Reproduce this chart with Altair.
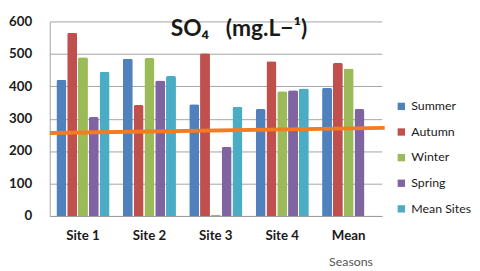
import altair as alt
import pandas as pd

sites = ["Site 1", "Site 2", "Site 3", "Site 4", "Mean"]
seasons = ["Summer", "Autumn", "Winter", "Spring", "Mean Sites"]
summer = [420, 485, 345, 330, 395]
autumn = [565, 342, 502, 477, 472]
winter = [490, 487, 3, 385, 455]
spring = [305, 418, 213, 388, 330]
mean_sites = [445, 432, 337, 393, None]
colors = ["#4F81BD", "#C0504D", "#9BBB59", "#8064A2", "#4BACC6"]

line_start = [256]
line_end = [272]
title_text = "SO₄\u00a0\u00a0\u00a0(mg.L−¹)"

W, H = 350, 205

rows = []
for series, name in zip([summer, autumn, winter, spring, mean_sites], seasons):
    for s, v in zip(sites, series):
        if v is not None:
            rows.append({"site": s, "season": name, "value": v})
df = pd.DataFrame(rows)
ldf = pd.DataFrame({"y0": line_start, "y1": line_end})
tdf = pd.DataFrame({"tx": [0.57], "ty": [575], "label": [title_text]})

FONT = "Lato"

y_axis = alt.Axis(title=None, values=[0, 100, 200, 300, 400, 500, 600],
                  labelFontSize=14, labelFontWeight="bold", labelColor="#1a1a1a",
                  labelFont=FONT, labelPadding=19, ticks=False, grid=True,
                  gridColor="#a0a0a0", domainColor="#a0a0a0")
y_scale = alt.Scale(domain=[0, 600])
aux_x_scale = alt.Scale(domain=[0, 1], nice=False, padding=0)

bars = alt.Chart(df).mark_bar(cornerRadiusTopLeft=2, cornerRadiusTopRight=2).encode(
    x=alt.X("site:N", sort=sites,
            scale=alt.Scale(paddingInner=0.2, paddingOuter=0.1),
            axis=alt.Axis(title="Seasons", labelAngle=0, labelFontSize=14, labelFontWeight="bold",
                          labelColor="#1a1a1a", labelFont=FONT, labelPadding=14,
                          ticks=False, domainColor="#9a9a9a", grid=False,
                          titleFont=FONT, titleFontSize=13, titleFontWeight="normal",
                          titleColor="#555555", titleX=317, titleY=42)),
    xOffset=alt.XOffset("season:N", sort=seasons, scale=alt.Scale(paddingInner=0.08)),
    y=alt.Y("value:Q", scale=y_scale, axis=y_axis),
    color=alt.Color("season:N", sort=seasons,
                    scale=alt.Scale(domain=seasons, range=colors),
                    legend=alt.Legend(title=None, orient="none", legendX=364, legendY=83,
                                      symbolType="square", symbolSize=60, symbolStrokeWidth=0,
                                      labelFont=FONT, labelFontSize=13, labelColor="#1a1a1a",
                                      rowPadding=13, padding=0)),
)

line = alt.Chart(ldf).mark_rule(color="#F47B20", strokeWidth=4).encode(
    x=alt.value(0),
    x2=alt.value(W + 3),
    y=alt.Y("y0:Q", scale=y_scale, axis=y_axis),
    y2="y1:Q",
)

title = alt.Chart(tdf).mark_text(font=FONT, fontSize=24, fontWeight="bold", color="#1a1a1a",
                                 align="center", baseline="middle").encode(
    x=alt.X("tx:Q", scale=aux_x_scale, axis=None),
    y=alt.Y("ty:Q", scale=y_scale, axis=y_axis),
    text="label:N",
)

chart = alt.layer(bars, line, title).resolve_scale(x="independent").properties(
    width=W, height=H,
    padding={"left": 0, "top": 0, "right": 0, "bottom": 0},
).configure_view(stroke=None)

chart.save("out.html", embed_options={"renderer": "svg", "actions": False})
